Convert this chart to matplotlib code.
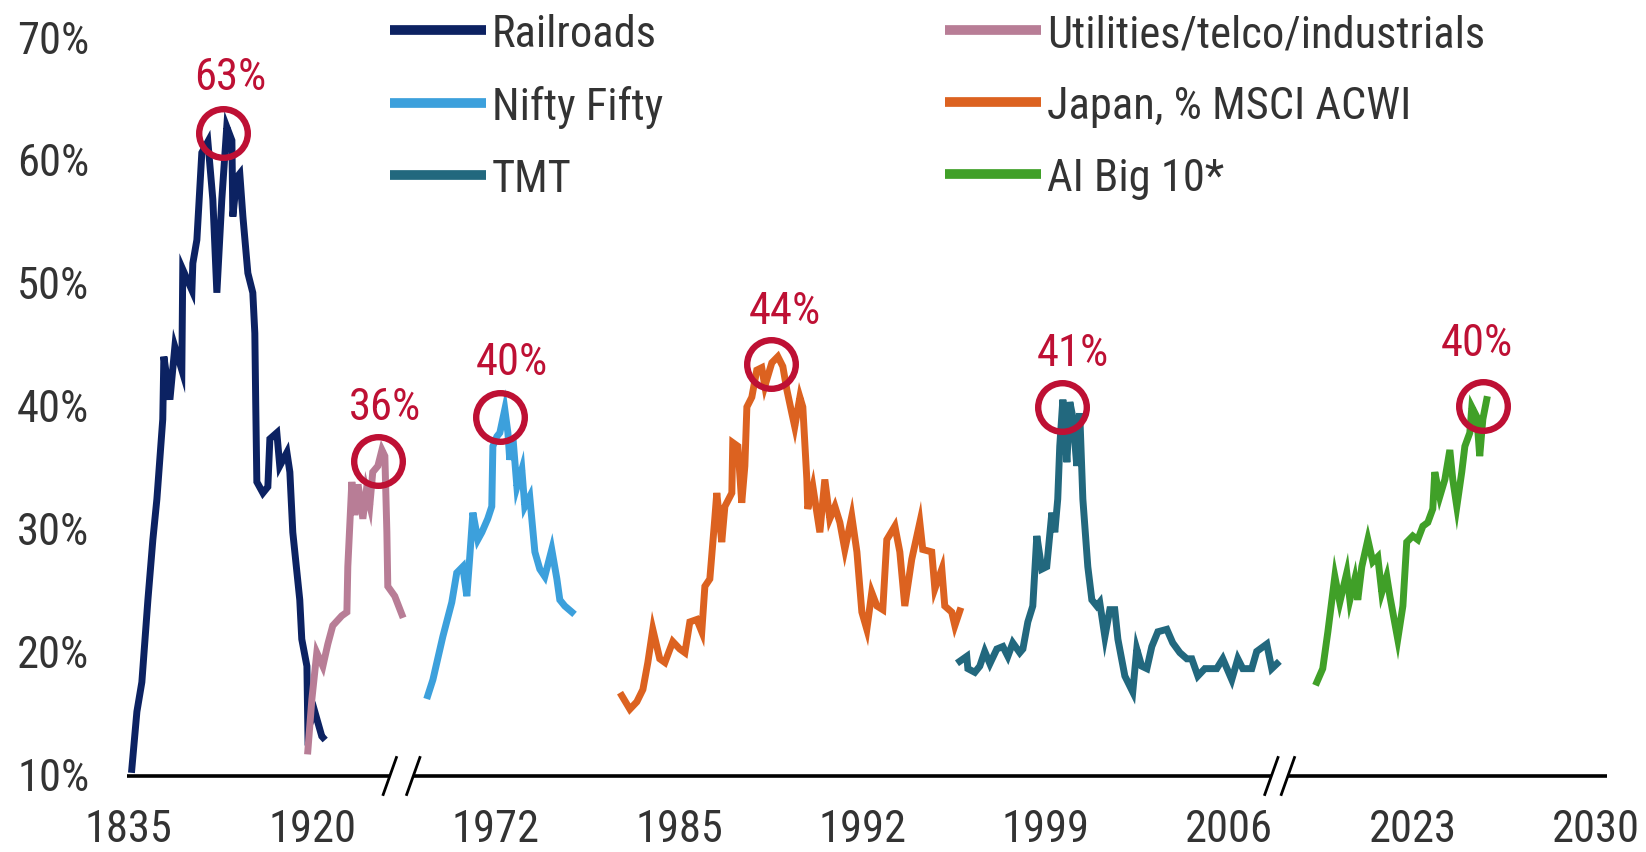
import matplotlib
matplotlib.use("Agg")
import matplotlib.pyplot as plt
import matplotlib.font_manager as fm
import matplotlib.transforms as mtransforms
from matplotlib.lines import Line2D


def pick_font():
    # the chart uses a narrow face; take one if it is installed
    names = {f.name for f in fm.fontManager.ttflist}
    for n in ['Liberation Sans Narrow', 'Roboto Condensed', 'Noto Sans Condensed',
              'Open Sans Condensed', 'DejaVu Sans Condensed', 'Arial Narrow']:
        if n in names:
            return n, 'normal', 32
    for f in fm.fontManager.ttflist:
        if f.stretch in ('condensed', 'semi-condensed', 'extra-condensed') and \
                f.name in ('Noto Sans', 'Open Sans', 'DejaVu Sans', 'Roboto', 'Inter', 'Lato'):
            return f.name, f.stretch, 32
    return 'Roboto', 'normal', 27


FONT, STRETCH, FS = pick_font()

# x axis is a broken axis: each tick label sits at an even slot 0..8
tick_pos = [0, 1, 2, 3, 4, 5, 6, 7, 8]
tick_labels = ['1835', '1920', '1972', '1985', '1992', '1999', '2006', '2023', '2030']
y_ticks = [10, 20, 30, 40, 50, 60, 70]

railroads_x = [0.016, 0.044, 0.071, 0.104, 0.131, 0.153, 0.185, 0.191, 0.224, 0.251, 0.289,
               0.294, 0.344, 0.349, 0.371, 0.398, 0.431, 0.458, 0.480, 0.507, 0.534, 0.562,
               0.567, 0.589, 0.605, 0.622, 0.649, 0.676, 0.687, 0.692, 0.698, 0.731, 0.758,
               0.769, 0.807, 0.823, 0.862, 0.878, 0.894, 0.932, 0.943, 0.971, 0.976, 1.014,
               1.052, 1.058]
railroads_y = [10.3, 15.0, 17.4, 24.1, 29.0, 32.3, 38.8, 43.9, 40.4, 44.7, 42.8,
               51.0, 49.3, 51.5, 53.4, 60.5, 61.4, 56.7, 49.1, 56.7, 62.6, 61.5,
               55.3, 58.5, 58.8, 55.3, 50.7, 49.1, 45.8, 40.0, 33.7, 32.8, 33.3,
               37.2, 37.7, 35.0, 36.1, 34.5, 29.6, 24.1, 20.9, 18.7, 13.6, 15.0,
               13.0, 12.9]

utilities_x = [0.976, 0.998, 1.025, 1.058, 1.085, 1.112, 1.161, 1.189, 1.194, 1.216, 1.232,
               1.250, 1.276, 1.295, 1.314, 1.330, 1.358, 1.380, 1.396, 1.407, 1.412, 1.450,
               1.489]
utilities_y = [11.8, 16.0, 19.8, 18.7, 20.5, 22.0, 22.8, 23.1, 26.8, 33.7, 31.0,
               33.5, 30.7, 33.0, 31.8, 34.5, 35.0, 36.3, 35.8, 29.6, 25.2, 24.4,
               22.9]

nifty_x = [1.630, 1.658, 1.712, 1.761, 1.788, 1.821, 1.843, 1.859, 1.876, 1.903, 1.925,
           1.957, 1.979, 1.985, 2.007, 2.023, 2.050, 2.067, 2.077, 2.094, 2.116, 2.143,
           2.159, 2.186, 2.214, 2.241, 2.268, 2.306, 2.334, 2.350, 2.377, 2.416]
nifty_y = [16.3, 17.6, 21.1, 23.9, 26.3, 26.8, 24.4, 27.6, 31.2, 29.0, 29.6,
           30.7, 31.7, 36.6, 37.4, 37.7, 39.6, 37.7, 35.5, 37.4, 33.3, 34.7,
           31.7, 32.5, 28.0, 26.6, 26.0, 28.2, 25.8, 24.1, 23.6, 23.1]

japan_x = [2.688, 2.732, 2.770, 2.803, 2.830, 2.857, 2.895, 2.923, 2.966, 3.004, 3.032,
           3.059, 3.097, 3.124, 3.141, 3.168, 3.195, 3.206, 3.233, 3.250, 3.288, 3.293,
           3.321, 3.342, 3.359, 3.370, 3.397, 3.424, 3.451, 3.468, 3.484, 3.506, 3.539,
           3.566, 3.588, 3.615, 3.631, 3.659, 3.675, 3.697, 3.702, 3.730, 3.768, 3.795,
           3.822, 3.850, 3.877, 3.904, 3.942, 3.970, 3.997, 4.024, 4.051, 4.079, 4.111,
           4.133, 4.177, 4.204, 4.231, 4.269, 4.313, 4.329, 4.378, 4.395, 4.433, 4.449,
           4.487, 4.504, 4.531]
japan_y = [16.3, 15.2, 15.8, 16.8, 19.0, 21.7, 19.3, 19.0, 20.7, 20.1, 19.8,
           22.3, 22.5, 21.5, 25.2, 25.8, 30.7, 32.8, 28.8, 31.7, 32.8, 36.9,
           36.6, 32.0, 35.0, 39.8, 40.6, 42.8, 43.0, 41.5, 42.3, 43.4, 43.9,
           43.1, 41.2, 39.3, 38.2, 40.6, 39.8, 33.9, 31.5, 33.3, 29.6, 33.9,
           30.7, 31.7, 30.4, 28.2, 30.9, 28.0, 23.1, 21.7, 24.7, 23.6, 23.3,
           29.0, 30.1, 28.0, 23.6, 27.4, 30.4, 28.2, 28.0, 25.0, 26.6, 23.6,
           23.1, 22.0, 23.2]

tmt_x = [4.531, 4.569, 4.575, 4.613, 4.640, 4.667, 4.695, 4.733, 4.766, 4.793, 4.820,
         4.858, 4.875, 4.902, 4.929, 4.951, 4.978, 5.005, 5.033, 5.049, 5.065, 5.076,
         5.093, 5.115, 5.131, 5.147, 5.169, 5.185, 5.202, 5.229, 5.251, 5.278, 5.294,
         5.322, 5.349, 5.376, 5.393, 5.431, 5.474, 5.496, 5.523, 5.551, 5.578, 5.611,
         5.660, 5.692, 5.731, 5.769, 5.796, 5.829, 5.867, 5.932, 5.965, 6.014, 6.047,
         6.074, 6.123, 6.150, 6.205, 6.232, 6.260]
tmt_y = [19.1, 19.5, 18.5, 18.2, 18.7, 19.9, 18.9, 20.1, 20.3, 19.5, 20.6,
         19.8, 20.1, 22.3, 23.6, 29.3, 26.6, 26.8, 31.2, 29.6, 32.3, 36.6,
         40.4, 35.3, 40.2, 39.0, 35.0, 39.3, 32.3, 26.8, 24.1, 23.6, 23.9,
         21.1, 23.3, 23.3, 20.9, 17.9, 16.6, 20.1, 18.7, 18.5, 20.3, 21.5,
         21.7, 20.6, 19.8, 19.3, 19.3, 17.9, 18.5, 18.5, 19.3, 17.6, 19.3,
         18.5, 18.5, 19.9, 20.5, 18.5, 18.9]

ai_x = [6.478, 6.510, 6.538, 6.576, 6.603, 6.641, 6.658, 6.685, 6.701, 6.723, 6.756,
        6.783, 6.810, 6.832, 6.859, 6.876, 6.919, 6.947, 6.968, 7.001, 7.028, 7.056,
        7.083, 7.110, 7.121, 7.148, 7.176, 7.203, 7.219, 7.241, 7.268, 7.285, 7.312,
        7.323, 7.350, 7.366, 7.383, 7.404]
ai_y = [17.4, 18.5, 21.5, 26.0, 23.9, 26.3, 24.1, 25.8, 24.1, 26.8, 29.0,
        27.2, 27.6, 24.7, 26.0, 24.4, 20.9, 23.6, 28.8, 29.3, 29.0, 30.1,
        30.4, 31.5, 34.5, 32.5, 33.9, 36.3, 33.9, 31.7, 34.5, 36.6, 37.7,
        39.8, 39.0, 35.8, 38.8, 40.4]

series = [
    ('Railroads', railroads_x, railroads_y, '#0C2262'),
    ('Nifty Fifty', nifty_x, nifty_y, '#3CA0DC'),
    ('TMT', tmt_x, tmt_y, '#22687E'),
    ('Utilities/telco/industrials', utilities_x, utilities_y, '#B87D96'),
    ('Japan, % MSCI ACWI', japan_x, japan_y, '#DC6220'),
    ('AI Big 10*', ai_x, ai_y, '#40A028'),
]

# peak markers
peak_x = [0.513, 1.358, 2.023, 3.501, 5.087, 7.383]
peak_y = [62.1, 35.4, 39.0, 43.3, 39.8, 39.9]
peak_labels = ['63%', '36%', '40%', '44%', '41%', '40%']
peak_label_x = [0.551, 1.396, 2.088, 3.577, 5.147, 7.350]
peak_label_y = [66.7, 39.8, 43.5, 47.6, 44.2, 45.0]

# axis breaks (slot positions of the two slashes)
breaks = [(1.423, 1.551), (6.23, 6.32)]

CRIMSON = '#BE1034'
TXT = '#333333'
prop = fm.FontProperties(family=FONT, stretch=STRETCH, size=FS)

fig = plt.figure(figsize=(16.46, 8.53), dpi=100)
ax = fig.add_axes([127 / 1646, 76 / 853, 1480 / 1646, 740 / 853])
ax.set_xlim(-0.01, 8.06)
ax.set_ylim(9.76, 70)

for name, xs, ys, col in series:
    ax.plot(xs, ys, color=col, lw=5, solid_joinstyle='miter', clip_on=False, zorder=3)

ax.plot(peak_x, peak_y, 'o', ms=35, mfc='none', mec=CRIMSON, mew=4.6, zorder=5, clip_on=False)
for lx, ly, lab in zip(peak_label_x, peak_label_y, peak_labels):
    ax.text(lx, ly, lab, ha='center', va='center', color=CRIMSON, fontproperties=prop)

# x axis line with breaks
for s in ax.spines.values():
    s.set_visible(False)
trans = mtransforms.blended_transform_factory(ax.transData, ax.transAxes)
seg_edges = [-0.01] + [b for pair in breaks for b in pair] + [8.06]
for a, b in zip(seg_edges[::2], seg_edges[1::2]):
    ax.plot([a, b], [0, 0], color='black', lw=2.6, transform=trans, clip_on=False,
            solid_capstyle='butt', zorder=4)
dx, dy = 0.036, 0.025
for pair in breaks:
    for bx in pair:
        ax.plot([bx - dx, bx + dx], [-dy, dy], color='black', lw=2.0, transform=trans,
                clip_on=False, zorder=4)

ax.set_xticks(tick_pos)
ax.set_xticklabels(tick_labels)
ax.set_yticks(y_ticks)
ax.set_yticklabels([f'{v}%' for v in y_ticks])
ax.tick_params(axis='x', length=0, pad=23, labelcolor=TXT)
ax.tick_params(axis='y', length=0, pad=27, labelcolor=TXT)
for lab in ax.get_xticklabels() + ax.get_yticklabels():
    lab.set_fontproperties(prop)

handles = [Line2D([], [], color=col, lw=7, solid_capstyle='butt') for _, _, _, col in series]
names = [s[0] for s in series]
em = FS * 100 / 72.0
leg_kw = dict(loc='upper left', bbox_transform=fig.transFigure, frameon=False, borderpad=0,
              borderaxespad=0, handlelength=96 / em, handletextpad=6 / em,
              labelspacing=30 / em, prop=prop, labelcolor=TXT)
leg1 = ax.legend(handles[:3], names[:3], bbox_to_anchor=(390 / 1646, 1 - 14 / 853), **leg_kw)
ax.add_artist(leg1)
ax.legend(handles[3:], names[3:], bbox_to_anchor=(945 / 1646, 1 - 14 / 853), **leg_kw)

fig.savefig('out.png', dpi=100, facecolor='white')
